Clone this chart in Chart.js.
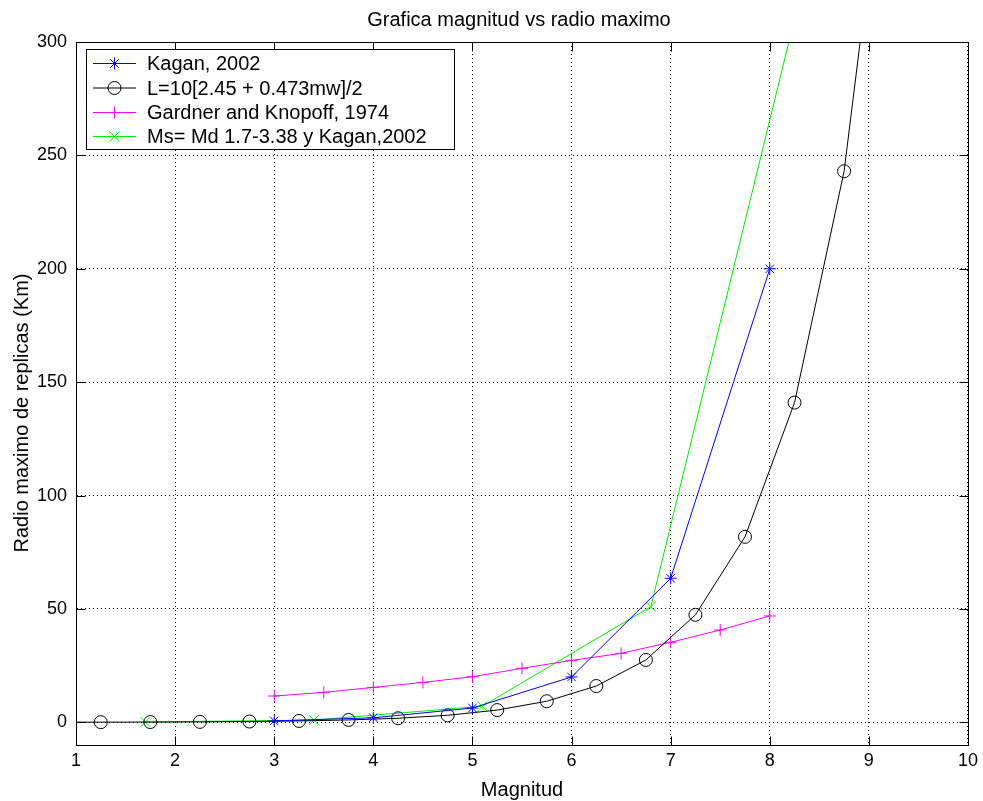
<!DOCTYPE html>
<html>
<head>
<meta charset="utf-8">
<title>Grafica magnitud vs radio maximo</title>
<script src="https://cdn.jsdelivr.net/npm/chart.js@4/dist/chart.umd.min.js"></script>
<style>
    html, body { margin: 0; padding: 0; background: #fff; }
</style>
</head>
<body>
<canvas id="radio-chart" width="983" height="801"></canvas>
<script>
const xTicks = [1, 2, 3, 4, 5, 6, 7, 8, 9, 10];
const yTicks = [0, 50, 100, 150, 200, 250, 300];

// Kagan, 2002
const kaganMag = [3, 4, 5, 6, 7, 8];
const kaganRadio = [0.63, 2, 6.3, 20, 63.5, 200];

// L=10[2.45 + 0.473mw]/2
const formulaMag = [0.75, 1.25, 1.75, 2.25, 2.75, 3.25, 3.75, 4.25, 4.75, 5.25, 5.75, 6.25, 6.75, 7.25, 7.75, 8.25, 8.75, 9.25];
const formulaRadio = [0.04, 0.07, 0.12, 0.2, 0.35, 0.61, 1.05, 1.8, 3.1, 5.4, 9.3, 16, 27.5, 47.4, 81.8, 141, 243, 419];

// Gardner and Knopoff, 1974
const gardnerMag = [3, 3.5, 4, 4.5, 5, 5.5, 6, 6.5, 7, 7.5, 8];
const gardnerRadio = [11.6, 13.2, 15.4, 17.6, 20.1, 23.8, 27.3, 30.4, 35.3, 40.7, 46.9];

// Ms= Md 1.7-3.38 y Kagan,2002
const msMag = [1.7, 3.4, 5.1, 6.8, 8.5];
const msRadio = [0.14, 1, 7.1, 51, 355];

const FONT = '"Liberation Sans", Arial, sans-serif';

function toPoints(xs, ys) {
    return xs.map((x, i) => ({ x: x, y: ys[i] }));
}

function series(label, xs, ys, color, style, radius) {
    return {
        label: label,
        data: toPoints(xs, ys),
        borderColor: color,
        borderWidth: 1,
        pointStyle: style,
        pointRadius: radius,
        pointBorderColor: color,
        pointBackgroundColor: 'rgba(0,0,0,0)',
        pointBorderWidth: 1,
        tension: 0,
        fill: false
    };
}

// small marker drawer for the legend samples
function drawMarker(ctx, style, x, y, r) {
    ctx.beginPath();
    if (style === 'circle') {
        ctx.arc(x, y, r, 0, Math.PI * 2);
    } else if (style === 'cross') {
        ctx.moveTo(x - r, y); ctx.lineTo(x + r, y);
        ctx.moveTo(x, y - r); ctx.lineTo(x, y + r);
    } else if (style === 'crossRot') {
        const d = r * Math.SQRT1_2;
        ctx.moveTo(x - d, y - d); ctx.lineTo(x + d, y + d);
        ctx.moveTo(x - d, y + d); ctx.lineTo(x + d, y - d);
    } else if (style === 'star') {
        const d = r * Math.SQRT1_2;
        ctx.moveTo(x - r, y); ctx.lineTo(x + r, y);
        ctx.moveTo(x, y - r); ctx.lineTo(x, y + r);
        ctx.moveTo(x - d, y - d); ctx.lineTo(x + d, y + d);
        ctx.moveTo(x - d, y + d); ctx.lineTo(x + d, y - d);
    }
    ctx.stroke();
}

const matlabFrame = {
    id: 'matlabFrame',
    afterDraw(chart) {
        const ctx = chart.ctx;
        const area = chart.chartArea;
        const xs = chart.scales.x;
        const ys = chart.scales.y;
        const tickLen = 9;

        ctx.save();
        ctx.strokeStyle = '#000';
        ctx.lineWidth = 1;
        ctx.setLineDash([]);

        // axes box
        const l = Math.round(area.left) + 0.5;
        const r = Math.round(area.right) + 0.5;
        const t = Math.round(area.top) + 0.5;
        const b = Math.round(area.bottom) + 0.5;
        ctx.strokeRect(l, t, r - l, b - t);

        // inward ticks on all four sides
        ctx.beginPath();
        xTicks.forEach(v => {
            const px = Math.round(xs.getPixelForValue(v)) + 0.5;
            ctx.moveTo(px, b); ctx.lineTo(px, b - tickLen);
            ctx.moveTo(px, t); ctx.lineTo(px, t + tickLen);
        });
        yTicks.forEach(v => {
            const py = Math.round(ys.getPixelForValue(v)) + 0.5;
            ctx.moveTo(l, py); ctx.lineTo(l + tickLen, py);
            ctx.moveTo(r, py); ctx.lineTo(r - tickLen, py);
        });
        ctx.stroke();

        // title and axis labels
        ctx.fillStyle = '#000';
        ctx.font = '20px ' + FONT;
        ctx.textAlign = 'center';
        ctx.textBaseline = 'alphabetic';
        ctx.fillText('Grafica magnitud vs radio maximo', 519, 26);
        ctx.fillText('Magnitud', 522, 796);

        ctx.save();
        ctx.translate(28, 413);
        ctx.rotate(-Math.PI / 2);
        ctx.fillText('Radio maximo de replicas (Km)', 0, 0);
        ctx.restore();

        // legend box
        const box = { left: 86.5, top: 49.5, width: 368, height: 100 };
        ctx.fillStyle = '#fff';
        ctx.fillRect(box.left, box.top, box.width, box.height);
        ctx.strokeRect(box.left, box.top, box.width, box.height);

        const rows = [63.5, 88, 112.5, 136.5];
        ctx.font = '20px ' + FONT;
        ctx.textAlign = 'left';
        ctx.textBaseline = 'middle';
        chart.data.datasets.forEach((ds, i) => {
            const y = rows[i];
            ctx.strokeStyle = ds.borderColor;
            ctx.beginPath();
            ctx.moveTo(93, y); ctx.lineTo(136, y);
            ctx.stroke();
            drawMarker(ctx, ds.pointStyle, 114.5, y, ds.pointRadius);
            ctx.fillStyle = '#000';
            ctx.fillText(ds.label, 147, y + 1);
        });
        ctx.restore();
    }
};

const chart = new Chart(document.getElementById('radio-chart'), {
    type: 'line',
    data: {
        datasets: [
            series('Kagan, 2002', kaganMag, kaganRadio, '#0000ff', 'star', 6),
            series('L=10[2.45 + 0.473mw]/2', formulaMag, formulaRadio, '#000000', 'circle', 6.5),
            series('Gardner and Knopoff, 1974', gardnerMag, gardnerRadio, '#ff00ff', 'cross', 6),
            series('Ms= Md 1.7-3.38 y Kagan,2002', msMag, msRadio, '#00ee00', 'crossRot', 7)
        ]
    },
    options: {
        responsive: false,
        animation: false,
        events: [],
        layout: {
            padding: { top: 42, right: 13, left: 0, bottom: 0 }
        },
        plugins: {
            legend: { display: false },
            tooltip: { enabled: false },
            title: { display: false }
        },
        scales: {
            x: {
                type: 'linear',
                min: 1,
                max: 10,
                afterBuildTicks: axis => { axis.ticks = xTicks.map(v => ({ value: v })); },
                afterFit: axis => { axis.height = 56; },
                ticks: {
                    color: '#000',
                    font: { family: FONT, size: 18 },
                    padding: 5,
                    maxRotation: 0
                },
                grid: { color: '#000', lineWidth: 1, drawTicks: false },
                border: { display: true, color: '#000', dash: [1, 3] }
            },
            y: {
                type: 'linear',
                min: -10,
                max: 300,
                afterBuildTicks: axis => { axis.ticks = yTicks.map(v => ({ value: v })); },
                afterFit: axis => { axis.width = 76; },
                ticks: {
                    color: '#000',
                    font: { family: FONT, size: 18 },
                    padding: 9
                },
                grid: { color: '#000', lineWidth: 1, drawTicks: false },
                border: { display: true, color: '#000', dash: [1, 3] }
            }
        }
    },
    plugins: [matlabFrame]
});
</script>
</body>
</html>
